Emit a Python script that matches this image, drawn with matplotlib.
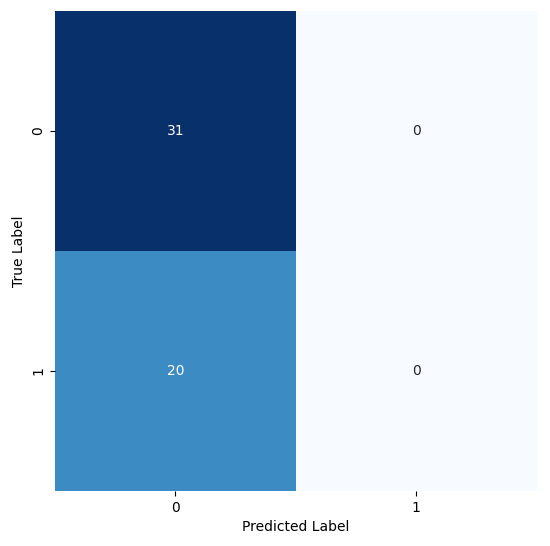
import matplotlib
matplotlib.use("Agg")
import matplotlib.pyplot as plt
import seaborn as sns
import numpy as np

true_labels = ["0", "1"]
pred_labels = ["0", "1"]
row0 = [31, 0]
row1 = [20, 0]

cm = np.array([row0, row1])

fig = plt.figure(figsize=(5.5, 5.46), dpi=100)
ax = fig.add_axes([0.1, 0.1007, 0.876, 0.879])
sns.heatmap(cm, annot=True, fmt="d", cmap="Blues", cbar=False, ax=ax,
            xticklabels=pred_labels, yticklabels=true_labels,
            annot_kws={"fontsize": 10})
ax.set_xlabel("Predicted Label", fontsize=10)
ax.set_ylabel("True Label", fontsize=10)
ax.tick_params(labelsize=10)
fig.savefig("out.png", dpi=100)
